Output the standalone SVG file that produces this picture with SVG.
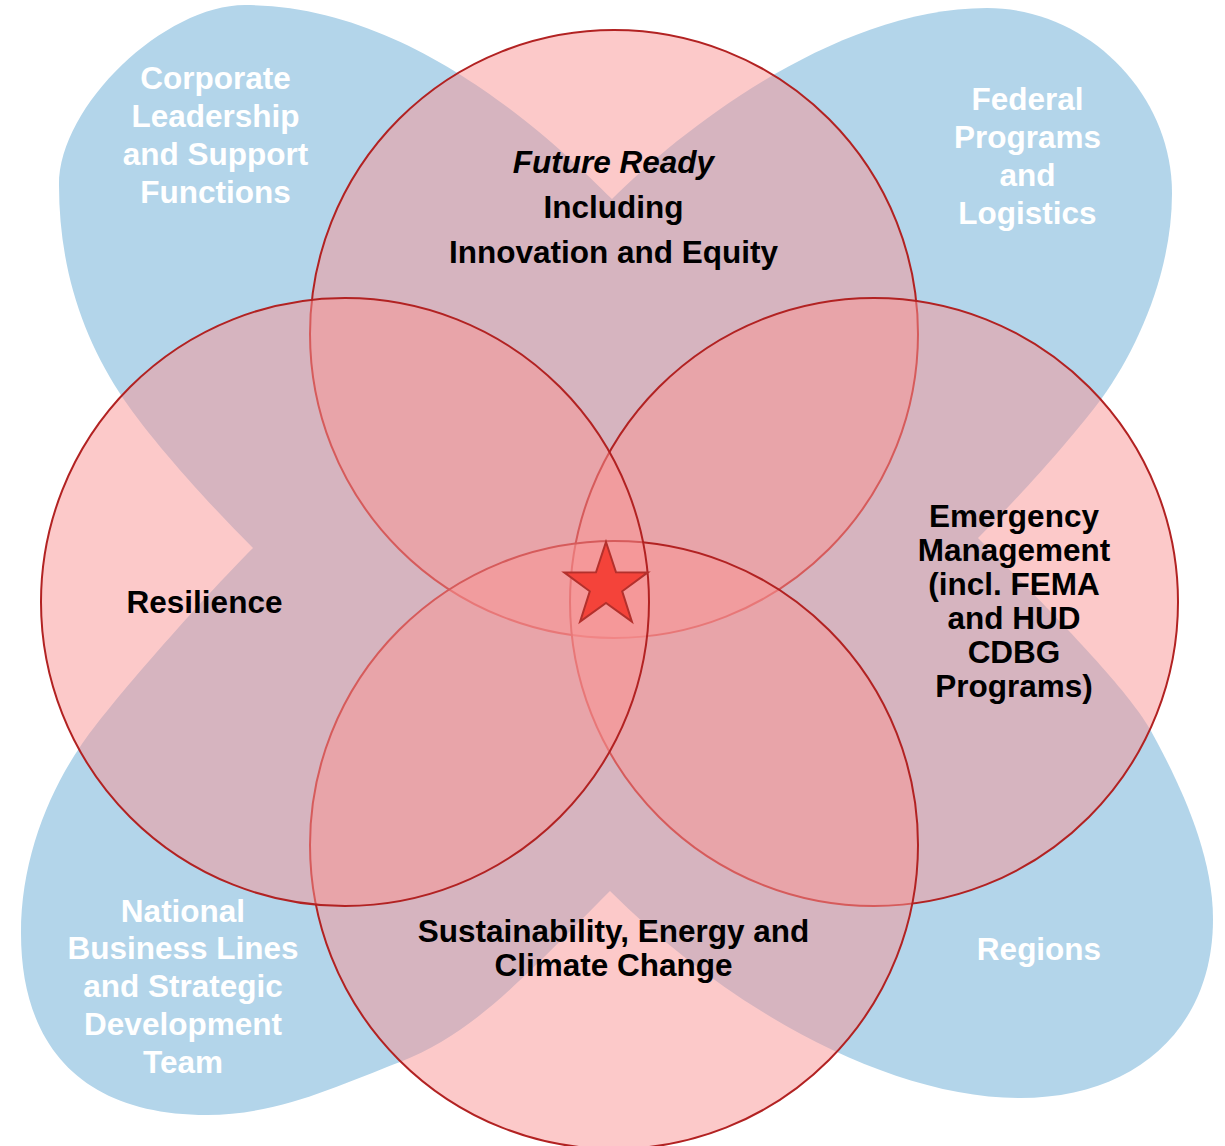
<svg xmlns="http://www.w3.org/2000/svg" width="1225" height="1146" viewBox="0 0 1225 1146">
  <style>
    .petal { fill: #b3d5ea; }
    .circ { fill: #f99393; fill-opacity: 0.5; stroke: #b22222; stroke-width: 2; }
    .lbl { font-family: "Liberation Sans", Arial, sans-serif; font-weight: bold; font-size: 31.5px; text-anchor: middle; }
    .w { fill: #ffffff; }
    .k { fill: #000000; }
    .star { fill: #f4433a; stroke: #b3302c; stroke-width: 2; stroke-linejoin: miter; }
  </style>
  <rect width="1225" height="1146" fill="#ffffff"/>

  <g id="petal-corporate">
    <path class="petal" d="M 612,199 C 542,129 405,5 245,5 C 165,5 59,105 59,185 C 59,265 81,333 119,392 C 146,434 203,498 253,548 L 680,620 Z"/>
    <text class="lbl w" x="215.5" y="89">Corporate</text>
    <text class="lbl w" x="215.5" y="127">Leadership</text>
    <text class="lbl w" x="215.5" y="165">and Support</text>
    <text class="lbl w" x="215.5" y="203">Functions</text>
  </g>

  <g id="petal-federal">
    <path class="petal" d="M 612,199 C 682,129 837,8 987,8 C 1087,8 1172,93 1172,193 C 1172,273 1137,349 1102,398 C 1072,438 1023,493 978,538 L 545,620 Z"/>
    <text class="lbl w" x="1027.5" y="110">Federal</text>
    <text class="lbl w" x="1027.5" y="148">Programs</text>
    <text class="lbl w" x="1027.5" y="186">and</text>
    <text class="lbl w" x="1027.5" y="224">Logistics</text>
  </g>

  <g id="petal-regions">
    <path class="petal" d="M 978,538 C 1038,598 1127,687 1151,731 C 1175,775 1213,849 1213,919 C 1213,1029 1135,1098 1020,1098 C 890,1098 730,1011 610,891 L 545,520 Z"/>
    <text class="lbl w" x="1039" y="960">Regions</text>
  </g>

  <g id="petal-national">
    <path class="petal" d="M 610,891 C 520,981 474,1033 400,1062 C 335,1087 277,1115 207,1115 C 87,1115 21,1051 21,933 C 21,863 46,797 80,747 C 108,705 203,598 253,548 L 680,520 Z"/>
    <text class="lbl w" x="183" y="921.5">National</text>
    <text class="lbl w" x="183" y="959">Business Lines</text>
    <text class="lbl w" x="183" y="997">and Strategic</text>
    <text class="lbl w" x="183" y="1035">Development</text>
    <text class="lbl w" x="183" y="1072.5">Team</text>
  </g>

  <g id="circle-future-ready">
    <circle class="circ" cx="614" cy="334" r="304"/>
    <text class="lbl k" x="613.5" y="173" font-style="italic">Future Ready</text>
    <text class="lbl k" x="613.5" y="218">Including</text>
    <text class="lbl k" x="613.5" y="263">Innovation and Equity</text>
  </g>

  <g id="circle-emergency">
    <circle class="circ" cx="874" cy="602" r="304"/>
    <text class="lbl k" x="1014" y="527">Emergency</text>
    <text class="lbl k" x="1014" y="561">Management</text>
    <text class="lbl k" x="1014" y="595">(incl. FEMA</text>
    <text class="lbl k" x="1014" y="629">and HUD</text>
    <text class="lbl k" x="1014" y="663">CDBG</text>
    <text class="lbl k" x="1014" y="697">Programs)</text>
  </g>

  <g id="circle-sustainability">
    <circle class="circ" cx="614" cy="845" r="304"/>
    <text class="lbl k" x="613.5" y="941.5">Sustainability, Energy and</text>
    <text class="lbl k" x="613.5" y="975.5">Climate Change</text>
  </g>

  <g id="circle-resilience">
    <circle class="circ" cx="345" cy="602" r="304"/>
    <text class="lbl k" x="204.5" y="613">Resilience</text>
  </g>

  <g id="star">
    <polygon class="star" points="606,542 616,572.2 647.8,572.4 622.2,591.3 631.9,621.6 606,603 580.1,621.6 589.8,591.3 564.2,572.4 596,572.2"/>
  </g>

  <g id="connectors"></g>
</svg>
